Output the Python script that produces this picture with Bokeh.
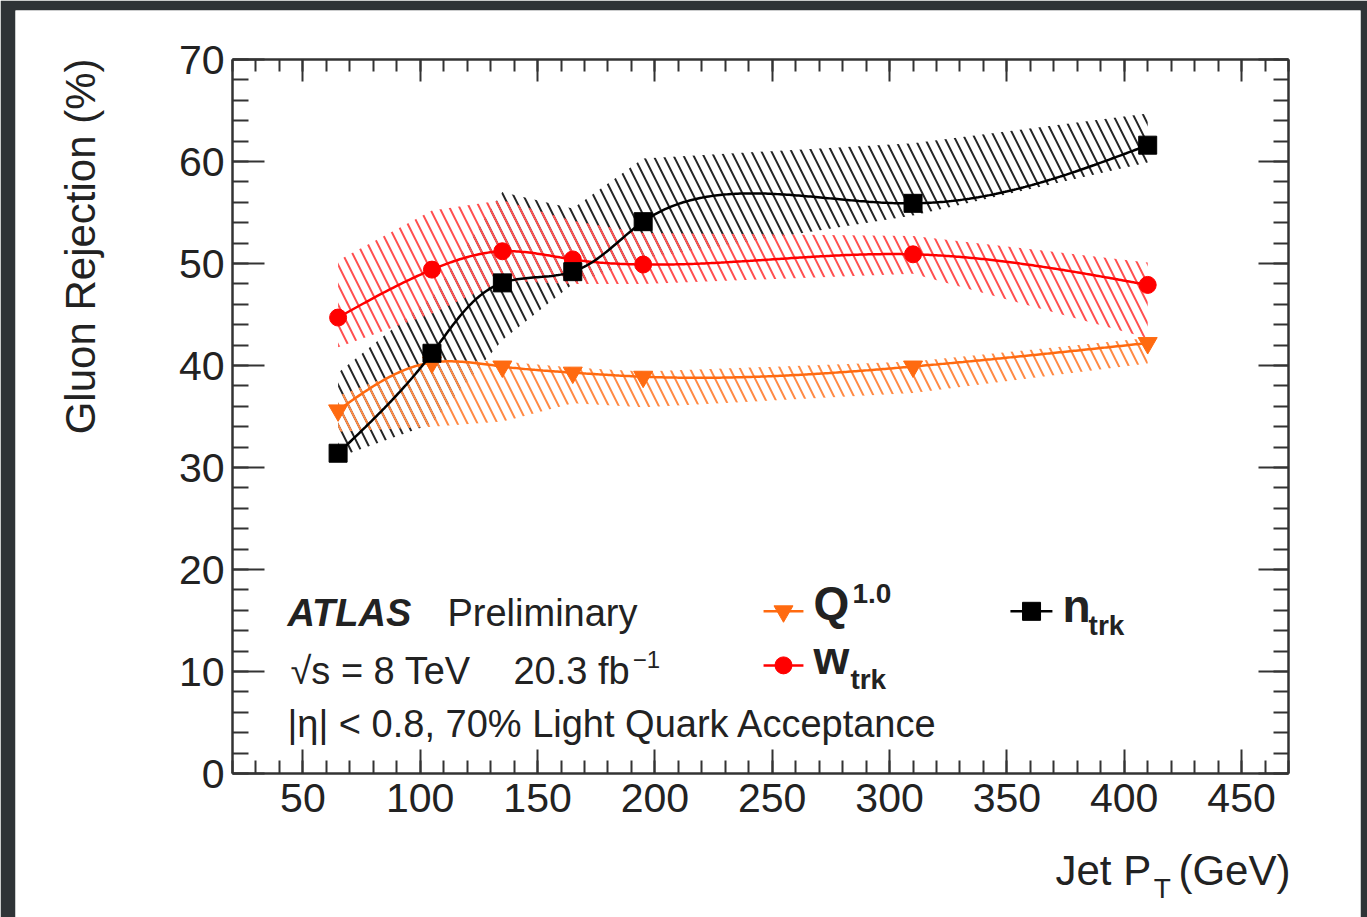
import re
import numpy as np
from math import pi
from bokeh.plotting import figure
from bokeh.models import (Label, LinearAxis, SingleIntervalTicker, Range1d,
                          CustomJSTickFormatter, Grid)
from bokeh.embed import file_html
from bokeh.resources import INLINE

# Jet pT bin centres (GeV)
pt = [65, 105, 135, 165, 195, 310, 410]

# Gluon rejection (%) at 70% light-quark acceptance, with systematic band edges
ntrk = [31.4, 41.2, 48.1, 49.2, 54.1, 55.9, 61.6]
ntrk_up = [39.3, 46.7, 57.0, 55.4, 60.3, 61.8, 64.7]
ntrk_lo = [31.0, 34.3, 42.5, 48.0, 50.5, 54.7, 59.9]

wtrk = [44.7, 49.4, 51.2, 50.4, 49.9, 50.9, 47.9]
wtrk_up = [50.3, 55.2, 56.2, 54.2, 53.0, 52.7, 50.1]
wtrk_lo = [41.8, 45.1, 48.3, 48.0, 48.0, 49.0, 42.7]

q10 = [35.6, 40.3, 39.9, 39.3, 38.9, 39.9, 42.2]
q10_up = [37.0, 40.6, 40.4, 39.8, 39.4, 40.4, 42.7]
q10_lo = [33.5, 34.0, 34.5, 36.3, 35.9, 37.3, 40.2]

FONT = "Liberation Sans"
DARK = "#222222"
BG = "#2f3437"

# axis box limits
X0, X1, Y0, Y1 = 20, 470, 0, 70
# white panel size and the axis box inside it (pixels from the panel's top-left)
PW, PH = 1345, 907
BOX_L, BOX_R, BOX_T, BOX_B = 217, 1273, 49, 763
kx = (BOX_R - BOX_L) / (X1 - X0)
ky = (BOX_B - BOX_T) / (Y1 - Y0)
x_start, x_end = X0 - BOX_L / kx, X1 + (PW - BOX_R) / kx
y_start, y_end = Y0 - (PH - BOX_B) / ky, Y1 + BOX_T / ky


def natural(t, v, tt):
    """Natural cubic spline of v(t) evaluated at tt."""
    N = len(t)
    h = np.diff(t)
    A = np.zeros((N, N))
    b = np.zeros(N)
    A[0, 0] = A[-1, -1] = 1.0
    for i in range(1, N - 1):
        A[i, i - 1] = h[i - 1]
        A[i, i] = 2 * (h[i - 1] + h[i])
        A[i, i + 1] = h[i]
        b[i] = 6 * ((v[i + 1] - v[i]) / h[i] - (v[i] - v[i - 1]) / h[i - 1])
    M = np.linalg.solve(A, b)
    i = np.clip(np.searchsorted(t, tt, side="right") - 1, 0, N - 2)
    a = t[i + 1] - tt
    c = tt - t[i]
    hi = h[i]
    return (M[i] * a ** 3 / (6 * hi) + M[i + 1] * c ** 3 / (6 * hi)
            + (v[i] / hi - M[i] * hi / 6) * a + (v[i + 1] / hi - M[i + 1] * hi / 6) * c)


def smooth(xs, ys, n=400):
    """Parametric spline through the nodes, parametrised by on-screen chord length."""
    x = np.asarray(xs, float)
    y = np.asarray(ys, float)
    d = np.hypot(np.diff(x) * kx, np.diff(y) * ky)
    t = np.concatenate([[0.0], np.cumsum(d)])
    tt = np.linspace(0, t[-1], n)
    return natural(t, x, tt), natural(t, y, tt)


p = figure(frame_width=PW, frame_height=PH,
           x_range=Range1d(x_start, x_end), y_range=Range1d(y_start, y_end),
           x_axis_location=None, y_axis_location=None,
           output_backend="svg", toolbar_location=None,
           min_border_left=15, min_border_right=7,
           min_border_top=10, min_border_bottom=0)
for g in p.select(type=Grid):
    g.visible = False
p.background_fill_color = "white"
p.border_fill_color = BG
p.outline_line_color = None

xt = dict(interval=50, num_minor_ticks=5)
yt = dict(interval=10, num_minor_ticks=5)
empty = CustomJSTickFormatter(code="return ''")
bottom = LinearAxis(fixed_location=Y0, bounds=(X0, X1), ticker=SingleIntervalTicker(**xt))
top = LinearAxis(fixed_location=Y1, bounds=(X0, X1), ticker=SingleIntervalTicker(**xt), formatter=empty)
left = LinearAxis(fixed_location=X0, bounds=(Y0, Y1), ticker=SingleIntervalTicker(**yt))
right = LinearAxis(fixed_location=X1, bounds=(Y0, Y1), ticker=SingleIntervalTicker(**yt), formatter=empty)
p.add_layout(bottom, "below")
p.add_layout(top, "above")
p.add_layout(left, "left")
p.add_layout(right, "right")


def style_axis(ax, major, minor):
    ax.axis_line_color = "#333333"
    ax.axis_line_width = 2.5
    ax.major_tick_line_color = "#333333"
    ax.minor_tick_line_color = "#333333"
    ax.major_tick_line_width = 2
    ax.minor_tick_line_width = 2
    ax.major_tick_in = major
    ax.major_tick_out = 0
    ax.minor_tick_in = minor
    ax.minor_tick_out = 0
    ax.major_label_text_font = FONT
    ax.major_label_text_font_size = "41px"
    ax.major_label_text_color = DARK


style_axis(bottom, 24, 13)
style_axis(left, 32, 16)
style_axis(top, 22, 12)
style_axis(right, 30, 15)
bottom.major_label_standoff = 10
left.major_label_standoff = 8
top.major_label_text_font_size = "1px"
right.major_label_text_font_size = "1px"

# hatched systematic bands (straight-edged polygons through the band edges)
bands = [
    (ntrk_up, ntrk_lo, "#262626"),
    (wtrk_up, wtrk_lo, "#ff5050"),
    (q10_up, q10_lo, "#ff8a45"),
]
for up, lo, col in bands:
    p.patch(list(pt) + list(pt)[::-1], list(up) + list(lo)[::-1],
            fill_alpha=0, line_color=None,
            hatch_pattern="\\", hatch_color=col, hatch_scale=20, hatch_weight=2)

# central curves and markers
series = [
    (q10, "#ff6a10", "inverted_triangle", 19),
    (wtrk, "#ff0000", "circle", 17),
    (ntrk, "#000000", "square", 18),
]
for ys, col, mk, sz in series:
    sx, sy = smooth(pt, ys)
    p.line(sx, sy, line_color=col, line_width=2.5)
    p.scatter(pt, ys, marker=mk, size=sz, color=col)

# legend samples
legend_rows = [
    ("#ff6a10", "inverted_triangle", 19, 246.3, 263.3, 254.8, 15.9),
    ("#ff0000", "circle", 17, 246.3, 263.3, 254.8, 10.6),
    ("#000000", "square", 18, 351.5, 369.4, 360.5, 15.9),
]
for col, mk, sz, x0, x1, xm, yl in legend_rows:
    p.line([x0, x1], [yl, yl], line_color=col, line_width=2.5)
    p.scatter([xm], [yl], marker=mk, size=sz, color=col)


def label(text, x, y_base, size, style="normal"):
    """Text whose baseline sits at y_base (the box bottom is one descent lower)."""
    px = float(size.rstrip("px"))
    p.add_layout(Label(x=x, y=y_base - 0.2 * px / ky, text=text, text_font=FONT,
                       text_font_size=size, text_font_style=style, text_color=DARK,
                       text_baseline="bottom"))


# legend texts
label("Q", 267.6, 15.1, "46px", "bold")
label("1.0", 284.2, 17.3, "28px", "bold")
label("w", 267.6, 9.7, "46px", "bold")
label("trk", 283.3, 8.2, "28px", "bold")
label("n", 373.7, 14.8, "46px", "bold")
label("trk", 384.8, 13.5, "28px", "bold")

# experiment annotations
label("ATLAS", 43.4, 14.41, "38px", "bold italic")
label("Preliminary", 111.6, 14.41, "38px")
label("√s = 8 TeV", 44.7, 8.72, "38px")
label("20.3 fb", 139.7, 8.72, "38px")
label("−1", 190.6, 10.8, "24px")
label("|η| < 0.8, 70% Light Quark Acceptance", 43.4, 3.55, "38px")

# axis titles
label("Jet P", 370.7, -10.98, "42px")
label("T", 412.6, -12.25, "28px")
label("(GeV)", 423.1, -10.98, "42px")
p.add_layout(Label(x=-34.9, y=70.1, text="Gluon Rejection (%)", text_font=FONT,
                   text_font_size="42px", text_color=DARK, angle=pi / 2,
                   text_align="right", text_baseline="bottom"))

html = file_html(p, INLINE, title="Gluon rejection vs jet pT")
html = re.sub(r"<body[^>]*>", '<body style="margin:0;background-color:%s;">' % BG, html, count=1)
open("out.html", "w").write(html)
